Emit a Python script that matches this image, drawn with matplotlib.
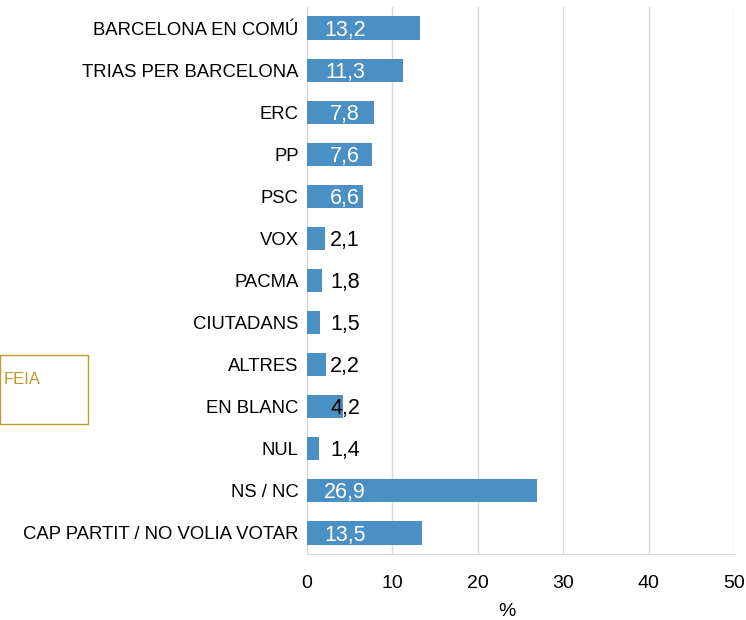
import matplotlib.pyplot as plt
from matplotlib.patches import Rectangle

plt.rcParams['font.family'] = ['Liberation Sans', 'DejaVu Sans']

parties = ["BARCELONA EN COMÚ", "TRIAS PER BARCELONA", "ERC", "PP", "PSC", "VOX",
           "PACMA", "CIUTADANS", "ALTRES", "EN BLANC", "NUL", "NS / NC",
           "CAP PARTIT / NO VOLIA VOTAR"]
values = [13.2, 11.3, 7.8, 7.6, 6.6, 2.1, 1.8, 1.5, 2.2, 4.2, 1.4, 26.9, 13.5]
x_ticks = [0, 10, 20, 30, 40, 50]

BLUE = "#4A90C5"
GOLD = "#C09A2C"

fig = plt.figure(figsize=(7.46, 6.2), dpi=100)
ax = fig.add_axes([0.4115, 0.1065, 0.5724, 0.8822])

pos = list(range(len(parties)))
ax.barh(pos, values, height=0.55, color=BLUE, zorder=3)

# data labels sit at a fixed spot near the base
for p, v in zip(pos, values):
    txt = f"{v:.1f}".replace(".", ",")
    ax.text(4.45, p + 0.05, txt, ha='center', va='center', fontsize=15.5,
            color='white' if v >= 6 else 'black', zorder=4)

ax.set_ylim(len(parties) - 0.5, -0.5)
ax.set_xlim(0, 50)
ax.set_yticks(pos)
ax.set_yticklabels(parties, fontsize=13.3)
ax.set_xticks(x_ticks)
ax.set_xticklabels([str(t) for t in x_ticks], fontsize=14)
ax.tick_params(length=0)
ax.tick_params(axis='x', pad=15)
ax.tick_params(axis='y', pad=6)
ax.set_xlabel("%", fontsize=14, va='center')
ax.xaxis.set_label_coords(0.468, -0.106)
ax.xaxis.grid(color='#D9D9D9', linewidth=1, zorder=0)
for s in ['top', 'right']:
    ax.spines[s].set_visible(False)
for s in ['left', 'bottom']:
    ax.spines[s].set_color('#D9D9D9')

# partial legend box on the left edge
fig.patches.append(Rectangle((0.0, 1 - 424 / 620), 88 / 746, 69 / 620,
                             transform=fig.transFigure, fill=False,
                             edgecolor=GOLD, linewidth=1))
fig.text(4 / 746, 1 - 380 / 620, "FEIA", color=GOLD, fontsize=12,
         ha='left', va='center')

plt.savefig("out.png", dpi=100)
